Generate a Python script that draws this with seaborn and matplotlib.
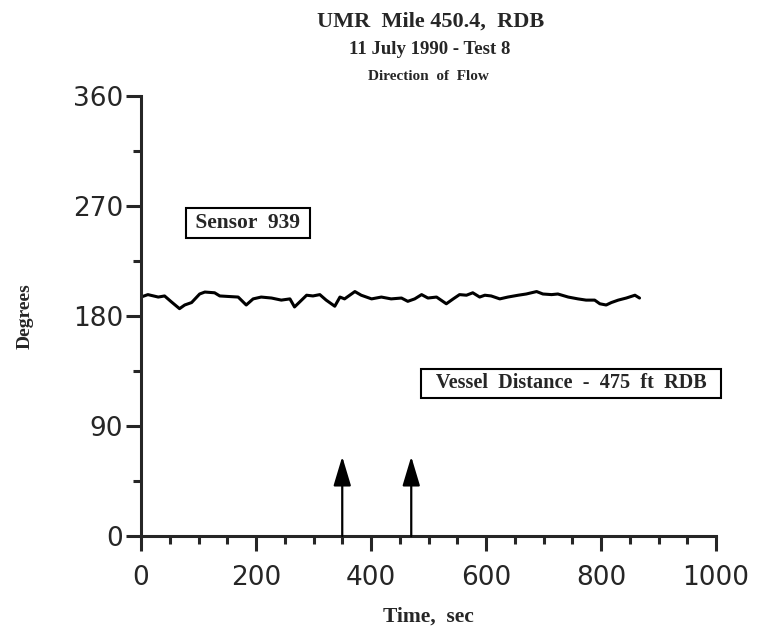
import matplotlib
matplotlib.use("Agg")
import matplotlib.pyplot as plt
import seaborn as sns
import pandas as pd
from matplotlib.ticker import MultipleLocator

# ---- data ----
time_sec = [0, 12, 30, 41, 53, 67, 76, 88, 102, 111, 128, 137, 151, 169, 183, 195, 209, 227, 244, 259,
            267, 276, 288, 299, 311, 322, 337, 346, 354, 372, 383, 401, 418, 435, 453, 464, 476, 488, 499, 514,
            531, 543, 554, 566, 577, 589, 598, 609, 624, 638, 656, 670, 688, 699, 714, 725, 743, 760, 774, 789,
            798, 809, 818, 830, 844, 859, 867]
degrees = [195.5, 197.5, 195.5, 196.4, 191.5, 186, 189, 191, 198, 199.6, 199, 196.4, 196, 195.5, 189, 194, 195.5, 194.7, 193, 194,
           187.4, 191.5, 197, 196.4, 197.5, 193, 188, 195.5, 194, 200, 197, 194, 195.5, 194, 194.7, 192, 194, 197.5, 194.7, 195.5,
           190, 194, 197.5, 197, 199, 195.5, 197, 196.4, 194, 195.5, 197, 198, 200, 198, 197.5, 198, 195.5, 194, 193, 193,
           190, 189, 191, 193, 194.7, 197, 194.7]
arrow_times = [350, 470]
arrow_height = 65
x_ticks = [0, 200, 400, 600, 800, 1000]
y_ticks = [0, 90, 180, 270, 360]

title = "UMR  Mile 450.4,  RDB"
subtitle = "11 July 1990 - Test 8"
subtitle2 = "Direction  of  Flow"
sensor_label = " Sensor  939 "
vessel_label = "  Vessel  Distance  -  475  ft  RDB  "

sns.set_style("ticks")
plt.rcParams["font.family"] = ["DejaVu Sans"]

fig = plt.figure(figsize=(7.63, 6.36), dpi=100)
ax = fig.add_axes([141 / 763, 1 - 536 / 636, (716 - 141) / 763, (536 - 96) / 636])

df = pd.DataFrame({"t": time_sec, "d": degrees})
sns.lineplot(data=df, x="t", y="d", ax=ax, color="black", lw=2.2)

for t in arrow_times:
    ax.annotate("", xy=(t, arrow_height), xytext=(t, 0),
                arrowprops=dict(arrowstyle="-|>,head_length=0.9,head_width=0.27",
                                mutation_scale=20, lw=1.6, color="black",
                                shrinkA=0, shrinkB=0))

ax.set_xlim(0, 1000)
ax.set_ylim(0, 360)
ax.set_xticks(x_ticks)
ax.set_yticks(y_ticks)
ax.xaxis.set_minor_locator(MultipleLocator(50))
ax.yaxis.set_minor_locator(MultipleLocator(45))
for s in ["top", "right"]:
    ax.spines[s].set_visible(False)
for s in ["left", "bottom"]:
    ax.spines[s].set_linewidth(2.2)
ax.tick_params(which="major", length=11, width=2.2, direction="out", labelsize=19, pad=2)
ax.tick_params(which="minor", length=6, width=2.2, direction="out")
ax.tick_params(axis="x", pad=10)

serif = ["Liberation Serif", "DejaVu Serif"]
ax.set_xlabel("Time,  sec", fontsize=15.5, fontweight="bold", family=serif, labelpad=11)
ax.set_ylabel("Degrees", fontsize=14, fontweight="bold", family=serif, labelpad=28)

box = dict(boxstyle="square,pad=0.22", fc="white", ec="black", lw=1.5)
ax.text(186, 256, sensor_label, ha="center", va="center", fontsize=15.5,
        fontweight="bold", family=serif, bbox=box)
ax.text(748, 125, vessel_label, ha="center", va="center", fontsize=14.6,
        fontweight="bold", family=serif, bbox=box)

fig.text(431 / 763, 1 - 22 / 636, title, ha="center", va="center", fontsize=16,
         fontweight="bold", family=serif)
fig.text(430 / 763, 1 - 49 / 636, subtitle, ha="center", va="center", fontsize=13.5,
         fontweight="bold", family=serif)
fig.text(428 / 763, 1 - 76 / 636, subtitle2, ha="center", va="center", fontsize=11,
         fontweight="bold", family=serif)

fig.savefig("out.png", dpi=100, facecolor="white")
